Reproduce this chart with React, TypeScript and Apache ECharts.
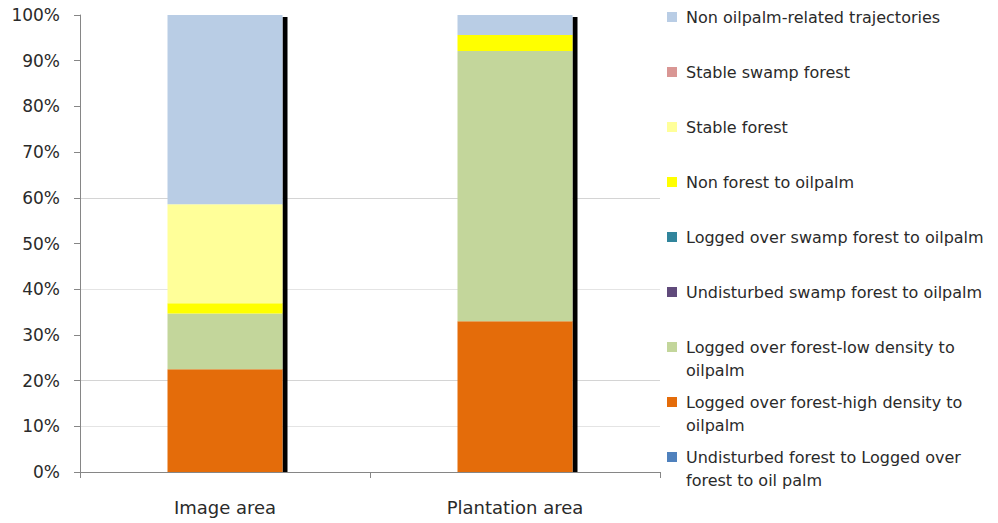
import React, { useEffect, useRef } from "react";
import * as echarts from "echarts";

const categories = ["Image area", "Plantation area"];
const yTicks = [0, 10, 20, 30, 40, 50, 60, 70, 80, 90, 100];

// stacking order bottom -> top
const seriesNames = [
  "Undisturbed forest to Logged over forest to oil palm",
  "Logged over forest-high density to oilpalm",
  "Logged over forest-low density to oilpalm",
  "Undisturbed swamp forest to oilpalm",
  "Logged over swamp forest to oilpalm",
  "Non forest to oilpalm",
  "Stable forest",
  "Stable swamp forest",
  "Non oilpalm-related trajectories",
];
const undisturbedToLogged = [0, 0];
const loggedHigh = [22.5, 33.0];
const loggedLow = [12.2, 59.1];
const undisturbedSwamp = [0, 0];
const loggedSwamp = [0, 0];
const nonForest = [2.2, 3.5];
const stableForest = [21.7, 0];
const stableSwamp = [0, 0];
const nonOilpalm = [41.4, 4.4];

const seriesValues = [
  undisturbedToLogged,
  loggedHigh,
  loggedLow,
  undisturbedSwamp,
  loggedSwamp,
  nonForest,
  stableForest,
  stableSwamp,
  nonOilpalm,
];
const seriesColors = [
  "#4F81BD",
  "#E46C0A",
  "#C3D69B",
  "#604A7B",
  "#31859C",
  "#FFFF00",
  "#FFFF99",
  "#D99694",
  "#B9CDE5",
];

// legend (top -> bottom) : first line, second line
const legendOrder = [8, 7, 6, 5, 4, 3, 2, 1, 0];
const legendLines: Record<string, [string, string]> = {
  "Logged over forest-low density to oilpalm": ["Logged over forest-low density to", "oilpalm"],
  "Logged over forest-high density to oilpalm": ["Logged over forest-high density to", "oilpalm"],
  "Undisturbed forest to Logged over forest to oil palm": ["Undisturbed forest to Logged over", "forest to oil palm"],
};

export default function App() {
  const ref = useRef<HTMLDivElement>(null);
  useEffect(() => {
    document.body.style.margin = "0";
    if (!ref.current) return;
    const chart = echarts.init(ref.current, undefined, { renderer: "svg" });
    const font = "DejaVu Sans";
    const textColor = "#2a2a2a";
    const legendLeft = 667;
    const legendTop0 = 17;
    const legendStep = 55;

    const legends: any[] = [];
    const graphics: any[] = [];
    legendOrder.forEach((si, i) => {
      const name = seriesNames[si];
      const cy = legendTop0 + i * legendStep;
      const lines = legendLines[name];
      legends.push({
        data: [name],
        left: legendLeft,
        top: cy - 9,
        padding: 0,
        itemWidth: 10,
        itemHeight: 10,
        icon: "rect",
        selectedMode: false,
        formatter: () => (lines ? lines[0] : name),
        textStyle: {
          fontFamily: font,
          fontSize: 16,
          color: textColor,
          lineHeight: 18,
          padding: [0, 0, 0, 4],
        },
      });
      if (lines) {
        graphics.push({
          type: "text",
          left: legendLeft + 19,
          top: cy + 23 - 9,
          style: {
            text: lines[1],
            fontFamily: font,
            fontSize: 16,
            fill: textColor,
            lineHeight: 18,
          },
        });
      }
    });

    const totals = categories.map((_, ci) =>
      seriesValues.reduce((s, arr) => s + arr[ci], 0)
    );
    const barWidth = 115;

    const t = "rgba(0,0,0,0)";
    chart.setOption({
      animation: false,
      grid: { left: 80, top: 15, right: 338, bottom: 51, containLabel: false },
      legend: legends,
      graphic: graphics,
      xAxis: {
        type: "category",
        data: categories,
        axisLine: { show: true, lineStyle: { color: "#868686", width: 1 } },
        axisTick: { show: true, alignWithLabel: false, interval: 0, length: 6, lineStyle: { color: "#868686" } },
        axisLabel: { fontFamily: font, fontSize: 18, color: textColor, margin: 26 },
        splitLine: { show: false },
      },
      yAxis: {
        type: "value",
        min: yTicks[0],
        max: yTicks[yTicks.length - 1],
        interval: yTicks[1] - yTicks[0],
        axisLine: { show: true, lineStyle: { color: "#868686", width: 1 } },
        axisTick: { show: true, length: 6, lineStyle: { color: "#868686" } },
        axisLabel: {
          fontFamily: font,
          fontSize: 17,
          color: textColor,
          margin: 20,
          formatter: "{value}%",
        },
        splitLine: {
          show: true,
          lineStyle: {
            color: [t, "#e4e4e4", "#d4d4d4", t, "#e4e4e4", t, "#d4d4d4", t, t, t, t],
            width: 1,
          },
        },
      },
      series: [
        ...seriesNames.map((name, i) => ({
          name,
          type: "bar",
          stack: "total",
          barWidth,
          data: seriesValues[i],
          itemStyle: { color: seriesColors[i] },
          emphasis: { disabled: true },
        })),
        {
          type: "custom",
          name: "edge",
          silent: true,
          data: categories.map((_, ci) => [ci, totals[ci]]),
          encode: { x: 0, y: 1 },
          renderItem: (params: any, api: any) => {
            const ci = api.value(0);
            const top = api.coord([ci, api.value(1)]);
            const bottom = api.coord([ci, 0]);
            return {
              type: "rect",
              shape: {
                x: top[0] + barWidth / 2,
                y: top[1] + 2,
                width: 5,
                height: bottom[1] - top[1] - 2,
              },
              style: { fill: "#000000" },
            };
          },
        },
      ],
    });
    return () => chart.dispose();
  }, []);
  return <div ref={ref} style={{ width: 998, height: 523 }} />;
}
